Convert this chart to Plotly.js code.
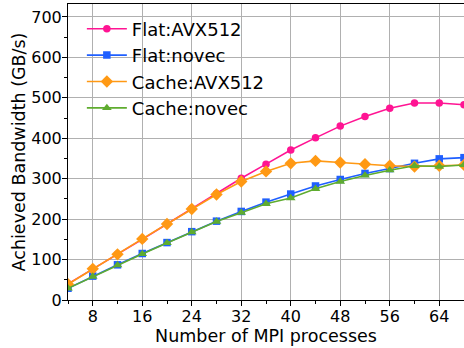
<!DOCTYPE html>
<html>
<head>
<meta charset="utf-8">
<script src="https://cdn.plot.ly/plotly-3.0.1.min.js"></script>
<style>html,body{margin:0;padding:0;background:#fff;}#chart{width:464px;height:348px;}</style>
</head>
<body>
<div id="chart"></div>
<script>
const procs = [4, 8, 12, 16, 20, 24, 28, 32, 36, 40, 44, 48, 52, 56, 60, 64, 68];
const flatAVX512 = [40, 76, 113, 150, 188, 226, 263, 301, 336, 371, 401, 430, 454, 474, 487, 487, 483];
const flatNovec = [29, 59, 87, 115, 142, 169, 195, 219, 242, 262, 282, 298, 313, 325, 338, 349, 352];
const cacheAVX512 = [39, 77, 113, 151, 188, 225, 261, 293, 318, 338, 344, 340, 336, 332, 330, 332, 334];
const cacheNovec = [29, 58, 86, 114, 141, 168, 194, 216, 238, 252, 275, 293, 308, 321, 332, 330, 334];
const seriesNames = ['Flat:AVX512', 'Flat:novec', 'Cache:AVX512', 'Cache:novec'];

const colors = ['#ff1493', '#1f5fff', '#ff9914', '#5fac2f'];
const symbols = ['circle', 'square', 'diamond', 'triangle-up'];
const sizes = [7.5, 7.5, 9.5, 8.5];
const data = [flatAVX512, flatNovec, cacheAVX512, cacheNovec].map((ys, i) => ({
  x: procs, y: ys, name: seriesNames[i], type: 'scatter', mode: 'lines+markers',
  line: {color: colors[i], width: 1.6},
  marker: {color: colors[i], symbol: symbols[i], size: sizes[i]},
  cliponaxis: true
}));

const font = {family: 'DejaVu Sans, sans-serif', color: '#000'};
const layout = {
  width: 464, height: 348,
  margin: {l: 68, r: 0, t: 4, b: 48},
  paper_bgcolor: '#fff', plot_bgcolor: '#fff',
  font: Object.assign({size: 16}, font),
  showlegend: true,
  legend: {x: 0.035, y: 0.978, xanchor: 'left', yanchor: 'top', bgcolor: 'rgba(0,0,0,0)',
           font: Object.assign({}, font, {size: 18}), tracegroupgap: 0, itemwidth: 40},
  xaxis: {
    range: [4, 68], tickmode: 'array', tickvals: [8, 16, 24, 32, 40, 48, 56, 64],
    ticks: 'outside', ticklen: 5, tickcolor: '#000', tickwidth: 1, ticklabelstandoff: -3,
    showline: true, linecolor: '#000', linewidth: 1, mirror: true,
    showgrid: true, gridcolor: '#b0b0b0', gridwidth: 1, zeroline: false,
    tickfont: Object.assign({}, font, {size: 16}),
    minor: {tickvals: [12, 20, 28, 36, 44, 52, 60, 68, 4], ticks: 'outside', ticklen: 3, tickcolor: '#000', showgrid: false},
    title: {text: 'Number of MPI processes', font: Object.assign({}, font, {size: 17.5}), standoff: 2}
  },
  yaxis: {
    range: [0, 732], tickmode: 'array', tickvals: [0, 100, 200, 300, 400, 500, 600, 700],
    ticks: 'outside', ticklen: 5, tickcolor: '#000', tickwidth: 1, ticklabelstandoff: -3,
    showline: true, linecolor: '#000', linewidth: 1, mirror: true,
    showgrid: true, gridcolor: '#b0b0b0', gridwidth: 1, zeroline: false,
    tickfont: Object.assign({}, font, {size: 16}),
    minor: {tickvals: [50, 150, 250, 350, 450, 550, 650], ticks: 'outside', ticklen: 3, tickcolor: '#000', showgrid: false},
    title: {text: 'Achieved Bandwidth (GB/s)', font: Object.assign({}, font, {size: 17.5}), standoff: 1}
  }
};
Plotly.newPlot('chart', data, layout, {displayModeBar: false, staticPlot: true});
</script>
</body>
</html>
